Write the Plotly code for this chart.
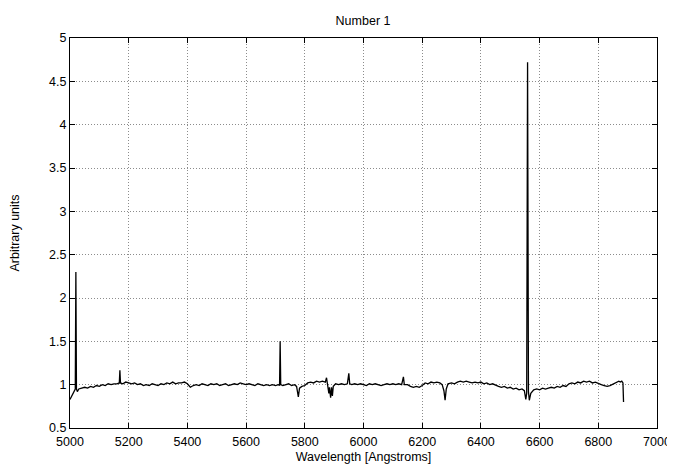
import plotly.graph_objects as go

wavelength = [
    5000, 5005, 5010, 5015, 5018, 5020, 5022, 5025, 5030, 5040, 5050, 5060, 5070, 5080, 5090,
    5100, 5110, 5120, 5130, 5140, 5150, 5160, 5168, 5170, 5172, 5180, 5190,
    5200, 5210, 5220, 5230, 5240, 5250, 5260, 5270, 5280, 5290,
    5300, 5310, 5320, 5330, 5340, 5350, 5360, 5370, 5380, 5390,
    5400, 5410, 5420, 5430, 5440, 5450, 5460, 5470, 5480, 5490,
    5500, 5510, 5520, 5530, 5540, 5550, 5560, 5570, 5580, 5590,
    5600, 5610, 5620, 5630, 5640, 5650, 5660, 5670, 5680, 5690,
    5700, 5710, 5714, 5716, 5718, 5725, 5735, 5745, 5755, 5765, 5772, 5778, 5782, 5790,
    5800, 5810, 5820, 5830, 5840, 5850, 5860, 5870, 5874, 5877, 5882, 5884, 5888, 5891, 5894, 5897,
    5905, 5915, 5925, 5935, 5945, 5950, 5953, 5960, 5970, 5980, 5990,
    6000, 6010, 6020, 6030, 6040, 6050, 6060, 6070, 6080, 6090,
    6100, 6110, 6120, 6130, 6136, 6139, 6150, 6160, 6170, 6180, 6190,
    6200, 6210, 6220, 6230, 6240, 6250, 6260, 6268, 6274, 6278, 6282, 6288,
    6300, 6310, 6320, 6330, 6340, 6350, 6360, 6370, 6380, 6390,
    6400, 6410, 6420, 6430, 6440, 6450, 6460, 6470, 6480, 6490,
    6500, 6510, 6520, 6530, 6540, 6548, 6553, 6556, 6559, 6562, 6565, 6570, 6580, 6590,
    6600, 6610, 6620, 6630, 6640, 6650, 6660, 6670, 6680, 6690,
    6700, 6710, 6720, 6730, 6740, 6750, 6760, 6770, 6780, 6790,
    6800, 6810, 6820, 6830, 6840, 6850, 6860, 6870, 6875, 6880, 6884, 6886,
]

flux = [
    0.83, 0.86, 0.89, 0.92, 0.95, 2.30, 0.95, 0.92, 0.95, 0.96, 0.97, 0.96, 0.98, 0.97, 0.99,
    0.98, 1.00, 0.99, 1.01, 1.00, 1.01, 1.01, 1.02, 1.165, 1.02, 1.01, 1.03,
    1.02, 1.01, 1.02, 1.00, 1.01, 0.99, 1.00, 0.99, 1.01, 1.00,
    0.99, 1.01, 1.00, 1.02, 1.01, 1.03, 1.01, 1.02, 1.02, 1.03,
    1.01, 0.97, 0.99, 1.00, 0.99, 1.01, 1.00, 0.99, 1.01, 1.00,
    1.01, 0.99, 1.00, 1.01, 0.99, 1.00, 1.01, 1.00, 1.02, 1.01,
    1.00, 1.01, 1.00, 0.99, 1.01, 1.00, 0.99, 1.00, 0.99, 1.00,
    0.99, 1.00, 0.99, 1.50, 1.00, 0.99, 1.00, 1.01, 0.99, 1.00, 0.98, 0.86, 0.96, 0.98,
    0.99, 1.02, 1.03, 1.02, 1.04, 1.03, 1.04, 1.03, 1.08, 1.00, 0.90, 0.97, 0.85, 0.97, 0.87, 0.98,
    1.01, 1.00, 1.01, 1.00, 1.01, 1.13, 1.01, 1.00, 1.01, 1.00, 1.01,
    1.00, 0.99, 1.01, 1.00, 1.01, 1.00, 0.99, 1.00, 1.01, 1.00,
    1.01, 1.00, 1.01, 1.00, 1.09, 1.00, 1.00, 0.98, 0.97, 0.98, 0.97,
    0.99, 1.02, 1.01, 1.03, 1.02, 1.03, 1.02, 1.00, 0.93, 0.82, 0.95, 1.01,
    1.02, 1.01, 1.03, 1.04, 1.03, 1.04, 1.03, 1.02, 1.03, 1.02,
    1.03, 1.01, 1.02, 1.00, 1.01, 0.99, 0.98, 0.97, 0.98, 0.96,
    0.97, 0.95, 0.96, 0.94, 0.95, 0.93, 0.83, 0.90, 4.72, 0.92, 0.82, 0.90, 0.94, 0.95,
    0.94, 0.96, 0.95, 0.96, 0.97, 0.96, 0.98, 0.97, 0.99, 0.98,
    1.01, 1.02, 1.01, 1.03, 1.02, 1.04, 1.03, 1.04, 1.02, 1.03,
    1.01, 1.00, 0.99, 0.98, 0.99, 1.01, 1.02, 1.04, 1.03, 1.04, 1.02, 0.80,
]

x_ticks = [5000, 5200, 5400, 5600, 5800, 6000, 6200, 6400, 6600, 6800, 7000]
y_ticks = [0.5, 1, 1.5, 2, 2.5, 3, 3.5, 4, 4.5, 5]
y_tick_labels = ["0.5", "1", "1.5", "2", "2.5", "3", "3.5", "4", "4.5", "5"]

FONT = "Liberation Sans, Arial, Helvetica, sans-serif"

fig = go.Figure()
fig.add_trace(go.Scatter(
    x=wavelength, y=flux, mode="lines",
    line=dict(color="black", width=1.3),
    showlegend=False,
))

axis_common = dict(
    showline=True, linecolor="black", linewidth=1, mirror="ticks",
    ticks="inside", ticklen=5, tickcolor="black", tickwidth=1,
    showgrid=True, gridcolor="#8c8c8c", gridwidth=1, griddash="1px,2px",
    zeroline=False, automargin=False,
    tickfont=dict(family=FONT, size=12.5, color="black"),
)

fig.update_layout(
    width=675, height=469,
    paper_bgcolor="white", plot_bgcolor="white",
    margin=dict(l=62, r=26, t=30, b=49),
    title=dict(text="Number 1", x=0.526, xanchor="center", y=0.974, yanchor="middle",
               font=dict(family=FONT, size=12.5, color="black")),
    font=dict(family=FONT, size=12.5, color="black"),
)
fig.update_xaxes(
    range=[5000, 7000], tickvals=x_ticks,
    ticklabelstandoff=2,
    title=dict(text="Wavelength [Angstroms]", standoff=4,
               font=dict(family=FONT, size=12.5)),
    **axis_common,
)
fig.update_yaxes(
    range=[0.5, 5], tickvals=y_ticks, ticktext=y_tick_labels,
    title=dict(text="Arbitrary units", standoff=26,
               font=dict(family=FONT, size=12.5)),
    **axis_common,
)

fig.write_html("out.html")
